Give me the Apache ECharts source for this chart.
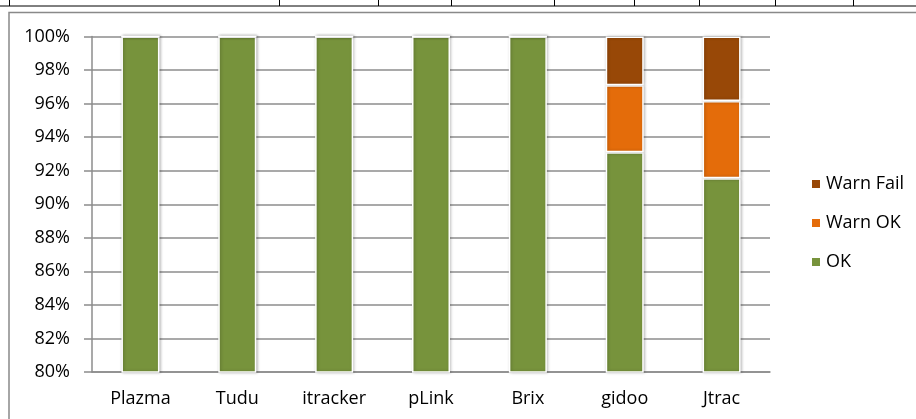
<!DOCTYPE html>
<html lang="en">
	<head>
		<meta charset="UTF-8" />
		<title>Test outcome share</title>
		<script src="https://cdn.jsdelivr.net/npm/echarts@6.0.0/dist/echarts.min.js"></script>
		<style>
			html, body { margin: 0; padding: 0; background: #fff; }
		</style>
	</head>
	<body>
		<div id="main" style="width: 916px; height: 419px"></div>
		<script type="text/javascript">
			// data (percent)
			const categories = ["Plazma", "Tudu", "itracker", "pLink", "Brix", "gidoo", "Jtrac"];
			const okValues = [100, 100, 100, 100, 100, 93.1, 91.55];
			const warnOkValues = [0, 0, 0, 0, 0, 4.0, 4.6];
			const warnFailValues = [0, 0, 0, 0, 0, 2.9, 3.85];
			const yTicks = { min: 80, max: 100, step: 2 };

			// column lines of the table row above the chart
			const tableCols = [9, 279, 378, 451, 554, 634, 699, 775, 853];

			const gray = "#8c8c8c";
			const font = "'Open Sans', sans-serif";

			function barStyle(color) {
				return {
					color: color,
					borderColor: "#fff",
					borderWidth: 1.5,
					shadowBlur: 3,
					shadowColor: "rgba(0,0,0,0.25)",
					shadowOffsetX: 1,
				};
			}

			const graphics = [
				{
					type: "rect",
					shape: { x: 9, y: 12.5, width: 1000, height: 500 },
					style: { fill: null, stroke: "#898989", lineWidth: 1.5 },
					silent: true,
				},
				{
					type: "line",
					shape: { x1: 0, y1: 6, x2: 916, y2: 6 },
					style: { stroke: "#000", lineWidth: 1 },
					silent: true,
				},
			];
			tableCols.forEach((x) => {
				graphics.push({
					type: "line",
					shape: { x1: x + 0.5, y1: 0, x2: x + 0.5, y2: 6 },
					style: { stroke: "#000", lineWidth: 1 },
					silent: true,
				});
			});

			const options = {
				animation: false,
				backgroundColor: "#fff",
				textStyle: { fontFamily: font },
				graphic: graphics,
				grid: { left: 92, right: 146, top: 36.5, bottom: 47 },
				legend: {
					orient: "vertical",
					left: 805,
					top: 170,
					icon: "rect",
					itemWidth: 10,
					itemHeight: 10,
					itemGap: 21,
					data: ["Warn Fail", "Warn OK", "OK"],
					textStyle: { fontFamily: font, fontSize: 18, color: "#000", lineHeight: 18 },
				},
				xAxis: {
					type: "category",
					data: categories,
					axisLine: { lineStyle: { color: gray, width: 1.5 } },
					axisTick: { length: 7, lineStyle: { color: gray, width: 1.5 } },
					axisLabel: { margin: 18, fontSize: 18, color: "#000", fontFamily: font },
				},
				yAxis: {
					type: "value",
					min: yTicks.min,
					max: yTicks.max,
					interval: yTicks.step,
					axisLine: { show: true, lineStyle: { color: gray, width: 1.5 } },
					axisTick: { show: true, length: 8, lineStyle: { color: gray, width: 1.5 } },
					splitLine: { lineStyle: { color: gray, width: 1.5 } },
					axisLabel: {
						margin: 22,
						fontSize: 18,
						color: "#000",
						fontFamily: font,
						formatter: "{value}%",
					},
				},
				series: [
					{
						name: "OK",
						type: "bar",
						stack: "total",
						barWidth: 38,
						data: okValues,
						itemStyle: barStyle("#77933c"),
					},
					{
						name: "Warn OK",
						type: "bar",
						stack: "total",
						barWidth: 38,
						data: warnOkValues,
						itemStyle: barStyle("#e46c0a"),
					},
					{
						name: "Warn Fail",
						type: "bar",
						stack: "total",
						barWidth: 38,
						data: warnFailValues,
						itemStyle: barStyle("#984807"),
					},
				],
			};

			const myChart = echarts.init(document.getElementById("main"));
			myChart.setOption(options);
		</script>
	</body>
</html>
